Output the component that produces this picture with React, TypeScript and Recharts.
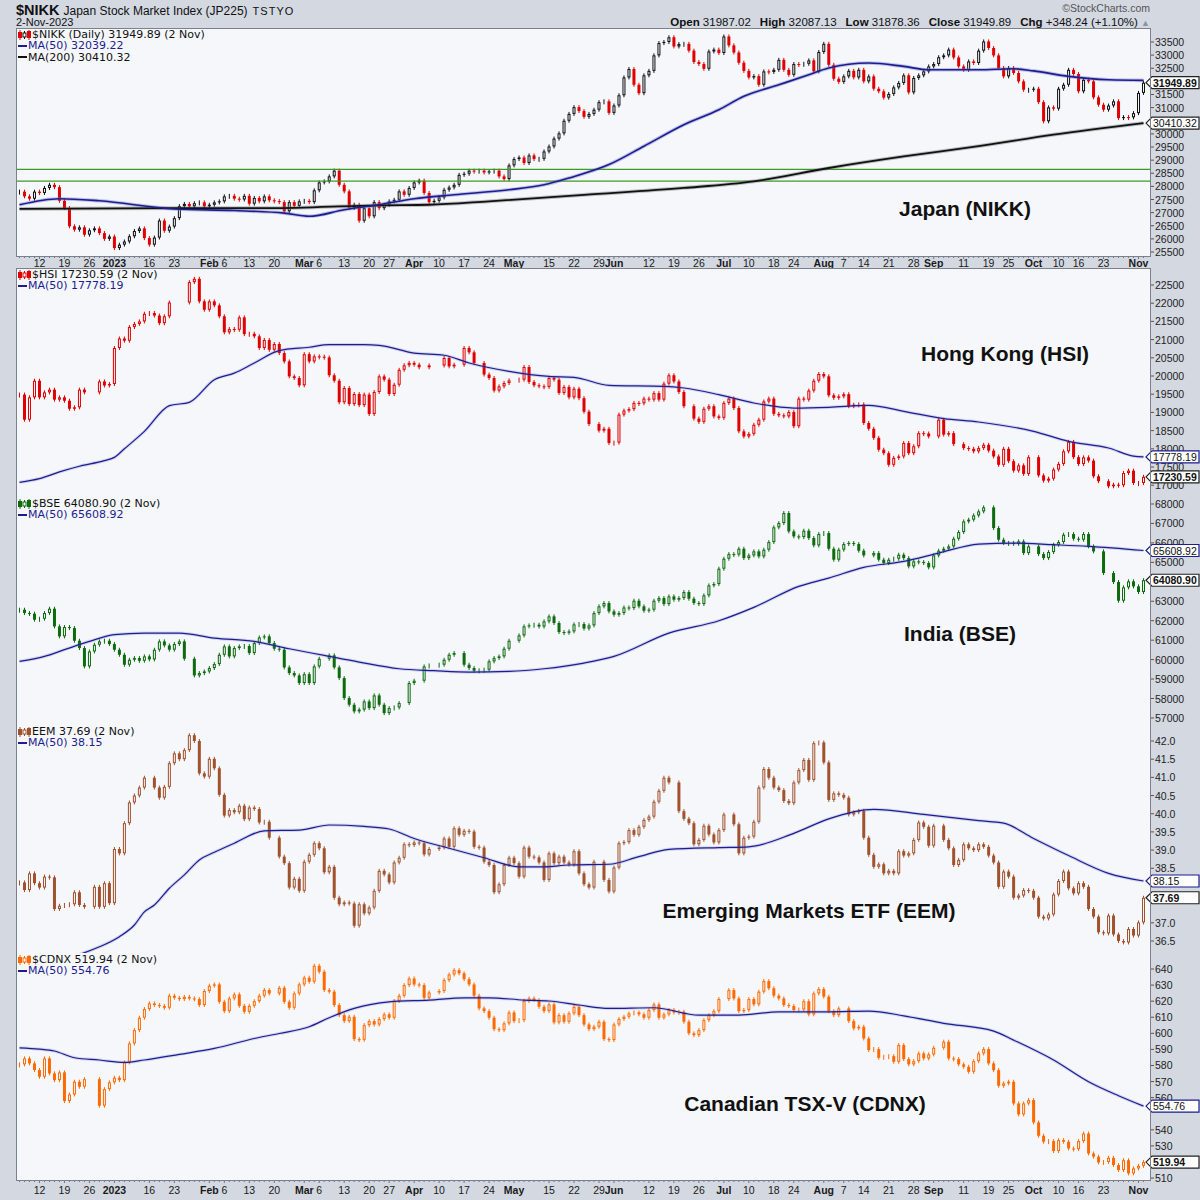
import React from "react";
import { ComposedChart, Bar, Line, XAxis, YAxis, ReferenceLine } from "recharts";

// 226 Tokyo sessions, 6 Dec 2022 .. 2 Nov 2023. Every panel is drawn on this index.
const DAYS = 226;

const DATE_TICKS: [number, string][] = [
  [4, "12"], [9, "19"], [14, "26"], [19, "2023"], [26, "16"], [31, "23"],
  [38, "Feb"], [41, "6"], [46, "13"], [51, "20"], [57, "Mar"], [60, "6"],
  [65, "13"], [70, "20"], [74, "27"], [79, "Apr"], [84, "10"], [89, "17"],
  [94, "24"], [99, "May"], [106, "15"], [111, "22"], [116, "29"], [119, "Jun"],
  [126, "12"], [131, "19"], [136, "26"], [141, "Jul"], [146, "10"], [151, "18"],
  [155, "24"], [161, "Aug"], [165, "7"], [169, "14"], [174, "21"], [179, "28"],
  [183, "Sep"], [189, "11"], [194, "19"], [198, "25"], [203, "Oct"], [208, "10"],
  [212, "16"], [217, "23"], [224, "Nov"],
];

const NIKK_CLOSE = [
  27800, 27620, 27530, 27800, 27750, 27940, 28060, 27970, 27450, 27175,
  26480, 26350, 26440, 26160, 26330, 26400, 26220, 26000, 26090, 25650,
  25780, 25900, 26100, 26300, 26400, 26030, 25780, 26050, 26700, 26310,
  26470, 26790, 27250, 27330, 27240, 27360, 27390, 27240, 27300, 27390,
  27430, 27620, 27640, 27530, 27500, 27640, 27340, 27560, 27430, 27620,
  27470, 27440, 27400, 27050, 27400, 27260, 27430, 27450, 27400, 27850,
  28150, 28190, 28380, 28600, 28060, 27810, 27180, 27300, 26690, 27170,
  26860, 27400, 27170, 27300, 27430, 27490, 27810, 27680, 27940, 28150,
  28220, 27750, 27400, 27450, 27580, 27870, 27960, 28060, 28440, 28480,
  28600, 28570, 28600, 28530, 28570, 28600, 28380, 28280, 28800, 29040,
  29100, 28890, 29180, 29040, 29050, 29330, 29520, 29820, 30020, 30500,
  30760, 31020, 30870, 30650, 30760, 30920, 31210, 31240, 30800, 31080,
  31470, 32150, 32470, 31870, 31550, 32230, 32400, 32990, 33460, 33500,
  33680, 33330, 33420, 33430, 33170, 32740, 32660, 32480, 33140, 33210,
  33080, 33710, 33370, 33100, 32710, 32400, 32150, 32200, 31870, 32380,
  32360, 32440, 32820, 32440, 32250, 32660, 32640, 32670, 32800, 32380,
  33120, 33430, 32630, 32100, 31980, 32190, 32400, 32150, 32440, 32000,
  32190, 31720, 31620, 31380, 31520, 31770, 31940, 32230, 31580, 32130,
  32230, 32380, 32570, 32660, 32920, 32990, 33210, 32910, 32570, 32440,
  32760, 32700, 33170, 33520, 33270, 32990, 32510, 32190, 32510, 32320,
  32000, 31680, 31680, 31720, 31210, 30480, 31010, 30960, 31720, 31870,
  32440, 32280, 31620, 32060, 32000, 31390, 31110, 30920, 31080, 31240,
  30600, 30640, 30630, 30790, 31560, 31950,
];
const NIKK_MA50: [number, number][] = [
  [0, 27300], [8, 27530], [16, 27450], [31, 27140], [43, 27080], [53, 26980],
  [58, 26860], [65, 27110], [72, 27300], [79, 27530], [87, 27680], [98, 27870],
  [105, 28060], [110, 28320], [118, 28830], [125, 29530], [133, 30350], [140, 30920],
  [145, 31430], [152, 31870], [158, 32250], [162, 32510], [170, 32700], [177, 32570],
  [182, 32440], [192, 32440], [199, 32480], [203, 32400], [210, 32190], [218, 32060],
  [225, 32039],
];
const NIKK_MA200: [number, number][] = [
  [0, 27140], [31, 27170], [50, 27170], [72, 27280], [82, 27300], [94, 27430],
  [113, 27680], [133, 27940], [147, 28190], [162, 28700], [177, 29140], [192, 29530],
  [207, 29970], [225, 30410],
];
const NIKK_LEVELS = [28650, 28200];

const HSI_CLOSE = [
  19490, 18800, 19414, 19870, 19414, 19550, 19625, 19350, 19414, 19320,
  19100, 19140, 19625, 19550, null, null, 19850, 19740, 19780, 20770,
  21030, 20970, 21345, 21430, 21500, 21710, 21730, 21660, 21450, 21640,
  22020, null, null, null, 22580, 22670, 22050, 21820, 22050, 21940,
  21640, 21200, 21290, 21270, 21610, 21150, 21160, 21090, 20770, 20990,
  20720, 20880, 20630, 20400, 19990, 19945, 19745, 20600, 20400, 20540,
  20530, 20510, 20020, 19870, 19277, 19670, 19230, 19505, 19200, 19490,
  18955, 19560, 19990, 19900, 19505, 19760, 20170, 20295, 20360, 20310,
  20240, null, 20290, null, null, 20495, 20265, 20310, null, 20770,
  20650, 20357, null, 20040, 19945, 19600, 19716, 19807, 19880, null,
  19900, 20247, 19835, 19745, 19716, 19700, 19945, 19900, 19534, 19700,
  19414, 19650, 19390, 19020, 18680, null, 18500, 18550, 18160, 18170,
  18940, 19050, 19090, 19260, 19250, 19380, 19350, 19530, 19350, 19790,
  20020, 19850, 19560, 19170, null, 18830, 18740, 19100, 19170, 18890,
  18850, 19260, 19380, 19120, 18480, 18340, 18410, 18660, 18800, 19300,
  19380, 18960, 18920, 18890, 19010, 18620, 19380, 19350, 19600, 19870,
  20055, 19990, 19470, 19400, 19440, 19500, 19170, 19210, 19220, 18710,
  18550, 18300, 17975, 17880, 17560, 17750, 17790, 18160, 17880, 18070,
  18430, 18420, 18340, null, 18800, 18390, 18430, 18130, null, 18020,
  18000, 17930, 18020, 18110, 17950, 17790, 17560, 18000, 17660, 17400,
  17545, 17310, 17770, null, 17270, 17125, 17180, 17430, 17585, 17930,
  18190, 17770, 17580, 17765, 17675, 17245, 17110, null, 16970, 17015,
  17000, 17335, 17400, 17060, 17060, 17231,
];
const HSI_MA50: [number, number][] = [
  [0, 17080], [4, 17180], [8, 17365], [12, 17520], [17, 17675], [19, 17765],
  [21, 18000], [25, 18480], [30, 19185], [34, 19277], [39, 19900], [43, 20080],
  [47, 20357], [52, 20696], [58, 20790], [62, 20860], [69, 20860], [72, 20842],
  [79, 20630], [85, 20570], [90, 20357], [98, 20128], [106, 19990], [111, 19963],
  [118, 19744], [129, 19716], [133, 19670], [140, 19487], [147, 19258], [155, 19120],
  [162, 19140], [170, 19195], [177, 19030], [185, 18828], [192, 18737], [203, 18480],
  [210, 18205], [218, 18022], [223, 17800], [225, 17778],
];

const BSE_CLOSE = [
  62565, 62394, 62360, 62050, 62100, 62394, 62617, 61708, 61194, 61674,
  61622, 60970, 60594, 59650, 60420, 60765, 60936, 60970, 60800, 60508,
  60250, 59736, 59993, 60080, 59940, 60165, 60010, 60508, 60936, 60730,
  60510, 60800, 60936, 60045, null, 59185, 59307, 59390, 59566, 59770,
  60250, 60680, 60165, 60594, 60680, 60700, 60337, 60850, 61140, 61194,
  60850, 60560, 60510, 59600, 59307, 59185, 58795, 59253, 58795, 59650,
  60045, null, 60217, 59600, 59050, 58023, 57680, 57336, 57430, 57850,
  57508, 58160, 57680, 57250, 57508, 57542, 57765, null, 58795, 58915,
  null, 59650, 59700, null, 59740, 59993, 60250, 60337, null, 59736,
  59566, 59430, 59450, 59480, 59910, 60080, 60165, 60560, 60970, null,
  61245, 61708, 61760, 61794, 61700, 61965, 62222, 61880, 61417, 61380,
  61450, 61810, 61830, 61600, 61760, 62393, 62737, 62908, 62480, 62307,
  62393, 62680, 62650, 63028, 62737, 62513, 62565, 63028, 63166, 62855,
  63250, 63080, 63166, 63474, 63130, 62908, 62856, 63303, 63817, 63885,
  64673, 65187, 65426, 65400, 65700, 65220, 65358, 65564, 65306, 65650,
  66044, 66798, 67020, 67535, 66592, 66335, 66300, 66627, 66250, 65873,
  66455, 66506, 65700, 65136, 65650, 65940, 65993, 65940, 65600, 65358,
  null, 65478, 65136, 64964, 65136, 65187, 65393, 65220, 64793, 65050,
  65016, 64964, 64742, 65358, 65598, 65700, 65820, 66215, 66558, 67105,
  67193, 67414, 67620, 67826, null, 66764, 66165, 65993, 66000, 65950,
  66078, 65478, 65820, null, 65426, 65220, 65530, 65907, 66044, 66420,
  66455, 66215, 66165, 66455, 65820, 65564, null, 64450, null, 63988,
  63028, 63714, 64023, 63765, 63474, 64081,
];
const BSE_MA50: [number, number][] = [
  [0, 59908], [5, 60165], [9, 60510], [14, 60936], [19, 61280], [25, 61365],
  [32, 61365], [39, 61108], [47, 60936], [54, 60560], [61, 60217], [68, 59874],
  [76, 59530], [83, 59430], [90, 59360], [98, 59395], [105, 59530], [113, 59822],
  [119, 60165], [130, 61365], [140, 61999], [147, 62685], [156, 63765], [162, 64193],
  [169, 64740], [177, 65050], [184, 65478], [192, 65940], [199, 65993], [207, 65907],
  [214, 65820], [225, 65609],
];

const EEM_CLOSE = [
  38.11, 37.9, 38.36, 38.09, 37.97, 38.27, 38.25, 37.38, 37.47, 37.49,
  37.51, 37.84, 37.49, 37.44, null, 37.99, 37.44, 38.09, 37.54, 39.03,
  38.91, 39.74, 40.31, 40.5, 40.72, 40.99, null, 40.72, 40.44, 40.74,
  41.39, 41.66, 41.5, 41.75, 42.16, 42.0, 41.11, 41.02, 41.51, 41.25,
  40.52, 39.95, 40.1, 40.04, 40.22, 39.85, 40.17, 40.13, 39.76, 39.78,
  39.34, null, 38.82, 38.64, 37.97, 38.21, 37.88, 38.68, 38.87, 39.19,
  39.05, 38.39, 38.54, 37.69, 37.51, 37.56, 37.53, 36.92, 37.51, 37.26,
  37.42, 37.88, 38.43, 38.33, 38.11, 38.66, 38.79, 39.16, 39.14, 39.21,
  39.19, 38.88, 39.03, null, 39.07, 39.32, 39.09, 39.6, 39.42, 39.53,
  39.51, 39.09, 39.07, 38.68, 38.59, 37.84, 38.06, 38.59, 38.79, 38.64,
  38.27, 39.07, 38.82, 38.8, 38.66, 38.18, 38.91, 38.64, 38.82, 38.66,
  38.6, 38.97, 38.36, 38.06, 37.97, 38.68, null, 38.18, 37.86, 38.52,
  39.19, 39.22, 39.55, 39.42, 39.64, 39.83, 39.92, 40.33, 40.63, 40.99,
  40.86, null, 40.07, 39.86, 39.74, 39.16, 39.28, 39.67, 39.43, 39.21,
  39.55, 39.98, null, 39.71, 38.91, 39.34, 39.37, 39.78, 40.72, 41.23,
  40.99, 40.72, 40.65, 40.35, 40.29, 40.86, 41.2, 41.48, 40.93, 41.94,
  41.96, 41.41, 40.38, 40.56, 40.52, 40.44, 39.98, 40.04, 40.08, 39.34,
  38.87, 38.54, 38.61, 38.36, 38.43, 38.36, 38.97, 38.85, 38.91, 39.28,
  39.76, 39.64, 39.12, 39.67, null, 39.28, 39.05, 38.59, 38.73, 39.16,
  39.05, 39.0, 39.16, 39.09, 38.85, 38.66, 37.99, 38.41, 38.27, 37.69,
  37.75, 37.9, 37.88, 37.69, 37.17, 37.12, 37.23, 37.78, 38.15, 38.41,
  37.95, 37.81, 38.09, 37.99, 37.38, 37.17, 36.74, 36.71, 37.2, 36.68,
  36.5, 36.46, 36.83, 36.65, 37.01, 37.69,
];
const EEM_MA50: [number, number][] = [
  [0, 35.6], [6, 35.9], [12, 36.13], [16, 36.34], [20, 36.62], [23, 36.94],
  [25, 37.3], [27, 37.49], [30, 37.95], [33, 38.32], [36, 38.73], [39, 38.94],
  [43, 39.19], [49, 39.53], [56, 39.55], [62, 39.69], [69, 39.65], [74, 39.58],
  [79, 39.32], [86, 39.05], [93, 38.79], [100, 38.54], [105, 38.54], [110, 38.59],
  [118, 38.61], [124, 38.82], [130, 39.02], [140, 39.07], [146, 39.09], [155, 39.46],
  [162, 39.86], [171, 40.12], [181, 39.98], [192, 39.81], [197, 39.74], [203, 39.32],
  [210, 38.85], [218, 38.36], [225, 38.15],
];

const CDNX_CLOSE = [
  580.7, 584.4, 581.3, 577.2, 573.0, 584.4, 575.1, 570.9, 575.7, 557.9,
  562.0, 569.9, 566.8, 571.5, null, null, 555.0, 565.3, 569.5, 572.4,
  570.9, 581.9, 593.7, 602.0, 609.7, 615.1, 618.6, 617.6, 617.0, 615.9,
  623.4, 622.1, 621.3, 622.7, 621.7, 621.3, 617.6, 626.3, 629.6, 630.4,
  619.6, 613.8, 621.7, 624.2, 617.1, 613.4, 617.1, 620.0, 623.4, 626.9,
  624.8, null, 628.3, 619.6, 615.9, 624.8, 630.4, 634.6, 632.1, 642.0,
  638.3, 626.9, 625.9, 617.6, 611.3, 607.6, 610.3, 596.4, 596.0, 605.1,
  607.6, 605.5, 608.9, 611.8, 609.7, 620.1, 623.4, 630.0, 634.1, 630.4,
  630.0, 622.1, 625.4, null, 626.3, 633.1, 636.6, 639.3, 637.3, 633.7,
  630.4, 623.4, 615.5, 613.8, 609.7, 602.6, 602.0, 606.2, 613.0, 607.6,
  608.2, 620.1, 621.7, 620.7, 616.5, 613.8, 618.0, 606.8, 611.3, 607.2,
  612.4, 616.5, 611.3, 605.5, 602.6, 604.1, 607.2, 596.4, 595.8, 605.5,
  608.9, 610.3, 612.4, 613.0, 611.8, 609.7, 614.5, 618.0, 609.7, 611.8,
  614.5, 613.0, 613.4, 607.2, 600.0, 598.9, 602.0, 608.2, 611.3, 613.8,
  621.3, null, 626.9, 621.7, 613.8, 614.5, 621.3, 618.0, 625.9, 632.5,
  628.0, 623.4, 621.7, 617.6, 617.0, 614.5, 614.8, 620.0, 611.8, 624.8,
  627.5, 622.8, 613.8, 611.3, 615.5, null, 607.6, 603.1, 604.1, 596.8,
  589.6, 590.2, 584.8, 585.4, 585.8, 582.3, 592.7, 584.0, 580.7, 582.7,
  587.5, 584.4, 586.9, 591.0, null, 594.8, 584.4, 584.0, 580.7, 579.2,
  576.1, 582.7, 587.5, 590.2, 581.3, 577.1, 567.4, 568.9, 569.9, 556.4,
  549.6, 556.4, 558.5, 544.6, 536.3, 532.6, 533.0, 526.8, 533.6, 532.6,
  528.4, 528.0, 533.0, 537.7, 525.3, 523.3, 519.7, 520.0, 522.6, 518.1,
  515.0, 521.1, 512.9, 516.0, 517.6, 519.94,
];
const CDNX_MA50: [number, number][] = [
  [0, 591.0], [4, 590.2], [7, 589.0], [11, 584.8], [16, 583.4], [21, 581.9],
  [25, 583.4], [32, 586.9], [39, 590.6], [47, 596.8], [52, 599.9], [58, 604.1],
  [62, 609.7], [67, 615.5], [74, 619.6], [82, 620.7], [89, 622.1], [94, 622.1],
  [101, 620.7], [106, 620.1], [112, 617.6], [118, 615.5], [127, 615.9], [136, 611.3],
  [144, 611.3], [152, 613.4], [162, 613.4], [170, 613.8], [177, 610.9], [185, 606.2],
  [195, 601.4], [199, 595.8], [207, 583.4], [214, 569.9], [220, 561.2], [225, 554.76],
];

// labels that sit under a price box are not shown, as on the reference
const NIKK_TICKS = [25500, 26000, 26500, 27000, 27500, 28000, 28500, 29000, 29500, 30000, 31000, 31500, 32500, 33000, 33500];
const HSI_TICKS = [17000, 17500, 18000, 18500, 19000, 19500, 20000, 20500, 21000, 21500, 22000, 22500];
const BSE_TICKS = [57000, 58000, 59000, 60000, 61000, 62000, 63000, 65000, 66000, 67000, 68000];
const EEM_TICKS = [36.5, 37.0, 38.5, 39.0, 39.5, 40.0, 40.5, 41.0, 41.5, 42.0];
const CDNX_TICKS = [510, 530, 540, 560, 570, 580, 590, 600, 610, 620, 630, 640];

const FRAME = "#d3d8e1";
const PLOT_BG = "#f5f7fb";
const EDGE = "#7b818c";
const NAVY = "#1d1d8f";
const DATE_LABEL = new Map(DATE_TICKS);

type Row = { [k: string]: any };
const rows: Row[] = Array.from({ length: DAYS }, (_, i) => ({ i }));

// candle open is taken as the previous close, the body spans the two
function addCandles(key: string, closes: (number | null)[]) {
  let prev: number | null = null;
  closes.forEach((c, i) => {
    if (c == null) return;
    const o = prev ?? c;
    rows[i][key + "O"] = o;
    rows[i][key + "C"] = c;
    rows[i][key + "B"] = [Math.min(o, c), Math.max(o, c)];
    prev = c;
  });
}
function addLine(key: string, pts: [number, number][]) {
  pts.forEach(([i, v]) => (rows[i][key] = v));
}
addCandles("nk", NIKK_CLOSE);
addCandles("hs", HSI_CLOSE);
addCandles("bs", BSE_CLOSE);
addCandles("em", EEM_CLOSE);
addCandles("cd", CDNX_CLOSE);
addLine("nkMa", NIKK_MA50);
addLine("nkMa2", NIKK_MA200);
addLine("hsMa", HSI_MA50);
addLine("bsMa", BSE_MA50);
addLine("emMa", EEM_MA50);
addLine("cdMa", CDNX_MA50);

interface Box { value: number; label: string; bold?: boolean; stroke: string }
interface MaCfg { key: string; color: string; width: number; halo: string }
interface PanelCfg {
  id: string; top: number; plotH: number; axisH: number; labelY: number;
  domain: [number, number]; ticks: number[]; digits: number; boxes: Box[];
  up: string; down: string; mas: MaCfg[]; levels?: number[];
  legend: { text: string; color: string; icon?: [string, string] }[];
  title: string; titleX: number; titleY: number;
}

const PANELS: PanelCfg[] = [
  {
    id: "nk", top: 28, plotH: 228, axisH: 12, labelY: 235,
    domain: [25348, 34033], ticks: NIKK_TICKS, digits: 0,
    boxes: [
      { value: 30410.32, label: "30410.32", stroke: "#222" },
      { value: 31949.89, label: "31949.89", bold: true, stroke: "#222" },
    ],
    up: "#111", down: "#e00000",
    mas: [
      { key: "nkMa2", color: "#111", width: 1.8, halo: "rgba(120,120,120,0.45)" },
      { key: "nkMa", color: NAVY, width: 1.6, halo: "rgba(110,110,200,0.4)" },
    ],
    levels: NIKK_LEVELS,
    legend: [
      { text: "$NIKK (Daily) 31949.89 (2 Nov)", color: "#111", icon: ["#111", "#e00000"] },
      { text: "MA(50) 32039.22", color: NAVY },
      { text: "MA(200) 30410.32", color: "#111" },
    ],
    title: "Japan (NIKK)", titleX: 965, titleY: 209,
  },
  {
    id: "hs", top: 268, plotH: 229, axisH: 0, labelY: 0,
    domain: [16676, 22967], ticks: HSI_TICKS, digits: 0,
    boxes: [
      { value: 17778.19, label: "17778.19", stroke: NAVY },
      { value: 17230.59, label: "17230.59", bold: true, stroke: "#222" },
    ],
    up: "#e00000", down: "#e00000",
    mas: [{ key: "hsMa", color: NAVY, width: 1.2, halo: "rgba(110,110,200,0.25)" }],
    legend: [
      { text: "$HSI 17230.59 (2 Nov)", color: "#111", icon: ["#e00000", "#e00000"] },
      { text: "MA(50) 17778.19", color: NAVY },
    ],
    title: "Hong Kong (HSI)", titleX: 1005, titleY: 354,
  },
  {
    id: "bs", top: 497, plotH: 228, axisH: 0, labelY: 0,
    domain: [56638, 68360], ticks: BSE_TICKS, digits: 0,
    boxes: [
      { value: 65608.92, label: "65608.92", stroke: NAVY },
      { value: 64080.9, label: "64080.90", bold: true, stroke: "#222" },
    ],
    up: "#0d6a0d", down: "#0d6a0d",
    mas: [{ key: "bsMa", color: NAVY, width: 1.2, halo: "rgba(110,110,200,0.25)" }],
    legend: [
      { text: "$BSE 64080.90 (2 Nov)", color: "#111", icon: ["#0d6a0d", "#0d6a0d"] },
      { text: "MA(50) 65608.92", color: NAVY },
    ],
    title: "India (BSE)", titleX: 960, titleY: 634,
  },
  {
    id: "em", top: 725, plotH: 228, axisH: 0, labelY: 0,
    domain: [36.17, 42.44], ticks: EEM_TICKS, digits: 1,
    boxes: [
      { value: 38.15, label: "38.15", stroke: NAVY },
      { value: 37.69, label: "37.69", bold: true, stroke: "#222" },
    ],
    up: "#a0522d", down: "#a0522d",
    mas: [{ key: "emMa", color: NAVY, width: 1.2, halo: "rgba(110,110,200,0.25)" }],
    legend: [
      { text: "EEM 37.69 (2 Nov)", color: "#111", icon: ["#a0522d", "#a0522d"] },
      { text: "MA(50) 38.15", color: NAVY },
    ],
    title: "Emerging Markets ETF (EEM)", titleX: 809, titleY: 911,
  },
  {
    id: "cd", top: 953, plotH: 227, axisH: 20, labelY: 237,
    domain: [508.8, 649.95], ticks: CDNX_TICKS, digits: 0,
    boxes: [
      { value: 554.76, label: "554.76", stroke: NAVY },
      { value: 519.94, label: "519.94", bold: true, stroke: "#222" },
    ],
    up: "#ff6a00", down: "#ff6a00",
    mas: [{ key: "cdMa", color: NAVY, width: 1.2, halo: "rgba(110,110,200,0.25)" }],
    legend: [
      { text: "$CDNX 519.94 (2 Nov)", color: "#111", icon: ["#ff6a00", "#ff6a00"] },
      { text: "MA(50) 554.76", color: NAVY },
    ],
    title: "Canadian TSX-V (CDNX)", titleX: 805, titleY: 1104,
  },
];

function makeCandle(key: string, up: string, down: string) {
  return (props: any) => {
    const { x, y, width, height, payload } = props;
    const o = payload?.[key + "O"];
    const c = payload?.[key + "C"];
    if (c == null || x == null || y == null) return <g />;
    const rising = c >= o;
    const col = rising ? up : down;
    const h = Math.max(height || 0, 1);
    const cx = x + width / 2;
    return (
      <g>
        <line x1={cx} x2={cx} y1={y - 2} y2={y + h + 2} stroke={col} strokeWidth={1} />
        {rising ? (
          <rect x={x + 0.5} y={y + 0.5} width={width - 1} height={Math.max(h - 1, 0)} fill={PLOT_BG} stroke={col} strokeWidth={1} />
        ) : (
          <rect x={x} y={y} width={width} height={h} fill={col} />
        )}
      </g>
    );
  };
}

function PriceTick(props: any) {
  const { y, payload, boxes, digits } = props;
  const v = payload?.value;
  const box = (boxes as Box[]).find((b) => b.value === v);
  if (box) {
    return (
      <g>
        <polygon
          points={`1146,${y} 1152,${y - 6} 1199,${y - 6} 1199,${y + 6} 1152,${y + 6}`}
          fill="#fdfdfe"
          stroke={box.stroke}
          strokeWidth={1.2}
        />
        <text x={1153} y={y} dominantBaseline="central" fontSize={10.5} fontFamily="Liberation Sans" fontWeight={box.bold ? 700 : 400} fill="#111">
          {box.label}
        </text>
      </g>
    );
  }
  return (
    <g>
      <line x1={1150} x2={1154} y1={y} y2={y} stroke="#555" />
      <text x={1155} y={y} dominantBaseline="central" fontSize={10.5} fontFamily="Liberation Sans" fill="#222">
        {Number(v).toFixed(digits)}
      </text>
    </g>
  );
}

function DateTick(props: any) {
  const { x, payload, plotH, labelY } = props;
  const label = DATE_LABEL.get(payload?.value);
  const bold = label !== undefined && !/^\d{1,2}$/.test(label);
  return (
    <g>
      <line x1={x} x2={x} y1={plotH} y2={plotH + (label ? 3 : 2)} stroke="#6f7581" />
      {label && (
        <text x={x} y={labelY} textAnchor="middle" dominantBaseline="central" fontSize={10.5} fontFamily="Liberation Sans" fontWeight={bold ? 700 : 400} fill="#1a1a1a">
          {label}
        </text>
      )}
    </g>
  );
}

function CandleIcon({ a, b }: { a: string; b: string }) {
  return (
    <svg width={13} height={10} style={{ marginRight: 1, flex: "none" }}>
      <line x1={2} x2={2} y1={0} y2={10} stroke={b} />
      <rect x={0.5} y={2.5} width={3} height={5} fill={b} stroke={b} />
      <line x1={6.5} x2={6.5} y1={1} y2={9} stroke={a} />
      <rect x={5} y={3} width={3} height={4} fill="#fff" stroke={a} />
      <line x1={11} x2={11} y1={0} y2={10} stroke={b} />
      <rect x={9.5} y={1.5} width={3} height={6} fill={b} stroke={b} />
    </svg>
  );
}

function Panel({ cfg }: { cfg: PanelCfg }) {
  const height = cfg.plotH + cfg.axisH;
  const allTicks = [...cfg.ticks, ...cfg.boxes.map((b) => b.value)];
  return (
    <>
      <div style={{ position: "absolute", left: 16, top: cfg.top, width: 1134, height: cfg.plotH, background: PLOT_BG }} />
      <div style={{ position: "absolute", left: 0, top: cfg.top }}>
        <ComposedChart width={1200} height={height} data={rows} margin={{ top: 0, right: 0, bottom: 0, left: 16 }}>
          <XAxis
            dataKey="i"
            type="category"
            hide={cfg.axisH === 0}
            height={cfg.axisH || 1}
            padding={{ left: 1, right: 4 }}
            interval={0}
            axisLine={false}
            tickLine={false}
            tick={<DateTick plotH={cfg.plotH} labelY={cfg.labelY} />}
          />
          <YAxis
            orientation="right"
            type="number"
            width={50}
            domain={cfg.domain}
            allowDataOverflow
            ticks={allTicks}
            interval={0}
            axisLine={false}
            tickLine={false}
            tick={<PriceTick boxes={cfg.boxes} digits={cfg.digits} />}
          />
          {(cfg.levels || []).map((lv) => (
            <ReferenceLine key={lv} y={lv} stroke="#3f9a22" strokeWidth={1.2} />
          ))}
          {cfg.mas.map((m) => (
            <Line
              key={m.key + "h"}
              dataKey={m.key}
              type="monotone"
              connectNulls
              dot={false}
              activeDot={false}
              stroke={m.halo}
              strokeWidth={m.width + 2}
              isAnimationActive={false}
            />
          ))}
          {cfg.mas.map((m) => (
            <Line
              key={m.key}
              dataKey={m.key}
              type="monotone"
              connectNulls
              dot={false}
              activeDot={false}
              stroke={m.color}
              strokeWidth={m.width}
              isAnimationActive={false}
            />
          ))}
          <Bar dataKey={cfg.id + "B"} barSize={3} shape={makeCandle(cfg.id, cfg.up, cfg.down)} isAnimationActive={false} />
        </ComposedChart>
      </div>
      <div
        style={{
          position: "absolute", left: 16, top: cfg.top, width: 1135, height: cfg.plotH + 1,
          border: `1px solid ${EDGE}`, borderTop: cfg.id === "nk" || cfg.id === "hs" ? `1px solid ${EDGE}` : "none",
          boxSizing: "border-box", pointerEvents: "none",
        }}
      />
      <div style={{ position: "absolute", left: 18, top: cfg.top + 1, fontFamily: "'DejaVu Sans'", fontSize: 11, lineHeight: "11.3px" }}>
        {cfg.legend.map((l, k) => (
          <div key={k} style={{ color: l.color, whiteSpace: "nowrap", display: "flex", alignItems: "center", height: 11.3 }}>
            {l.icon ? (
              <CandleIcon a={l.icon[0]} b={l.icon[1]} />
            ) : (
              <span style={{ display: "inline-block", width: 9, height: 2.5, background: l.color, marginRight: 1 }} />
            )}
            {l.text}
          </div>
        ))}
      </div>
      <div
        style={{
          position: "absolute", left: cfg.titleX, top: cfg.titleY, transform: "translate(-50%, -50%)",
          fontFamily: "'Liberation Sans'", fontWeight: 700, fontSize: 21, color: "#111", whiteSpace: "nowrap",
        }}
      >
        {cfg.title}
      </div>
    </>
  );
}

function Header() {
  const lab = { fontWeight: 700, marginLeft: 9 } as React.CSSProperties;
  return (
    <>
      <div style={{ position: "absolute", left: 16, top: 1, whiteSpace: "nowrap", color: "#111" }}>
        <span style={{ fontWeight: 700, fontSize: 14.5 }}>$NIKK</span>
        <span style={{ fontSize: 12, marginLeft: 4 }}>Japan Stock Market Index (JP225)</span>
        <span style={{ fontSize: 11, marginLeft: 5, letterSpacing: 1 }}>TSTYO</span>
      </div>
      <div style={{ position: "absolute", left: 16, top: 16, fontSize: 11, color: "#111" }}>2-Nov-2023</div>
      <div style={{ position: "absolute", right: 50, top: 2, fontSize: 10.5, color: "#555" }}>©StockCharts.com</div>
      <div style={{ position: "absolute", right: 50, top: 16, fontSize: 11.5, color: "#111", whiteSpace: "nowrap" }}>
        <span style={{ fontWeight: 700 }}>Open</span> 31987.02
        <span style={lab}>High</span> 32087.13
        <span style={lab}>Low</span> 31878.36
        <span style={lab}>Close</span> 31949.89
        <span style={lab}>Chg</span> +348.24 (+1.10%) <span style={{ color: "#8a93a6", fontSize: 9 }}>▲</span>
      </div>
    </>
  );
}

export default function App() {
  return (
    <div
      style={{
        position: "absolute", left: 0, top: 0, width: 1200, height: 1200, overflow: "hidden",
        background: FRAME, fontFamily: "'Liberation Sans', Arial, sans-serif",
      }}
    >
      <Header />
      {PANELS.map((p) => (
        <Panel key={p.id} cfg={p} />
      ))}
    </div>
  );
}
